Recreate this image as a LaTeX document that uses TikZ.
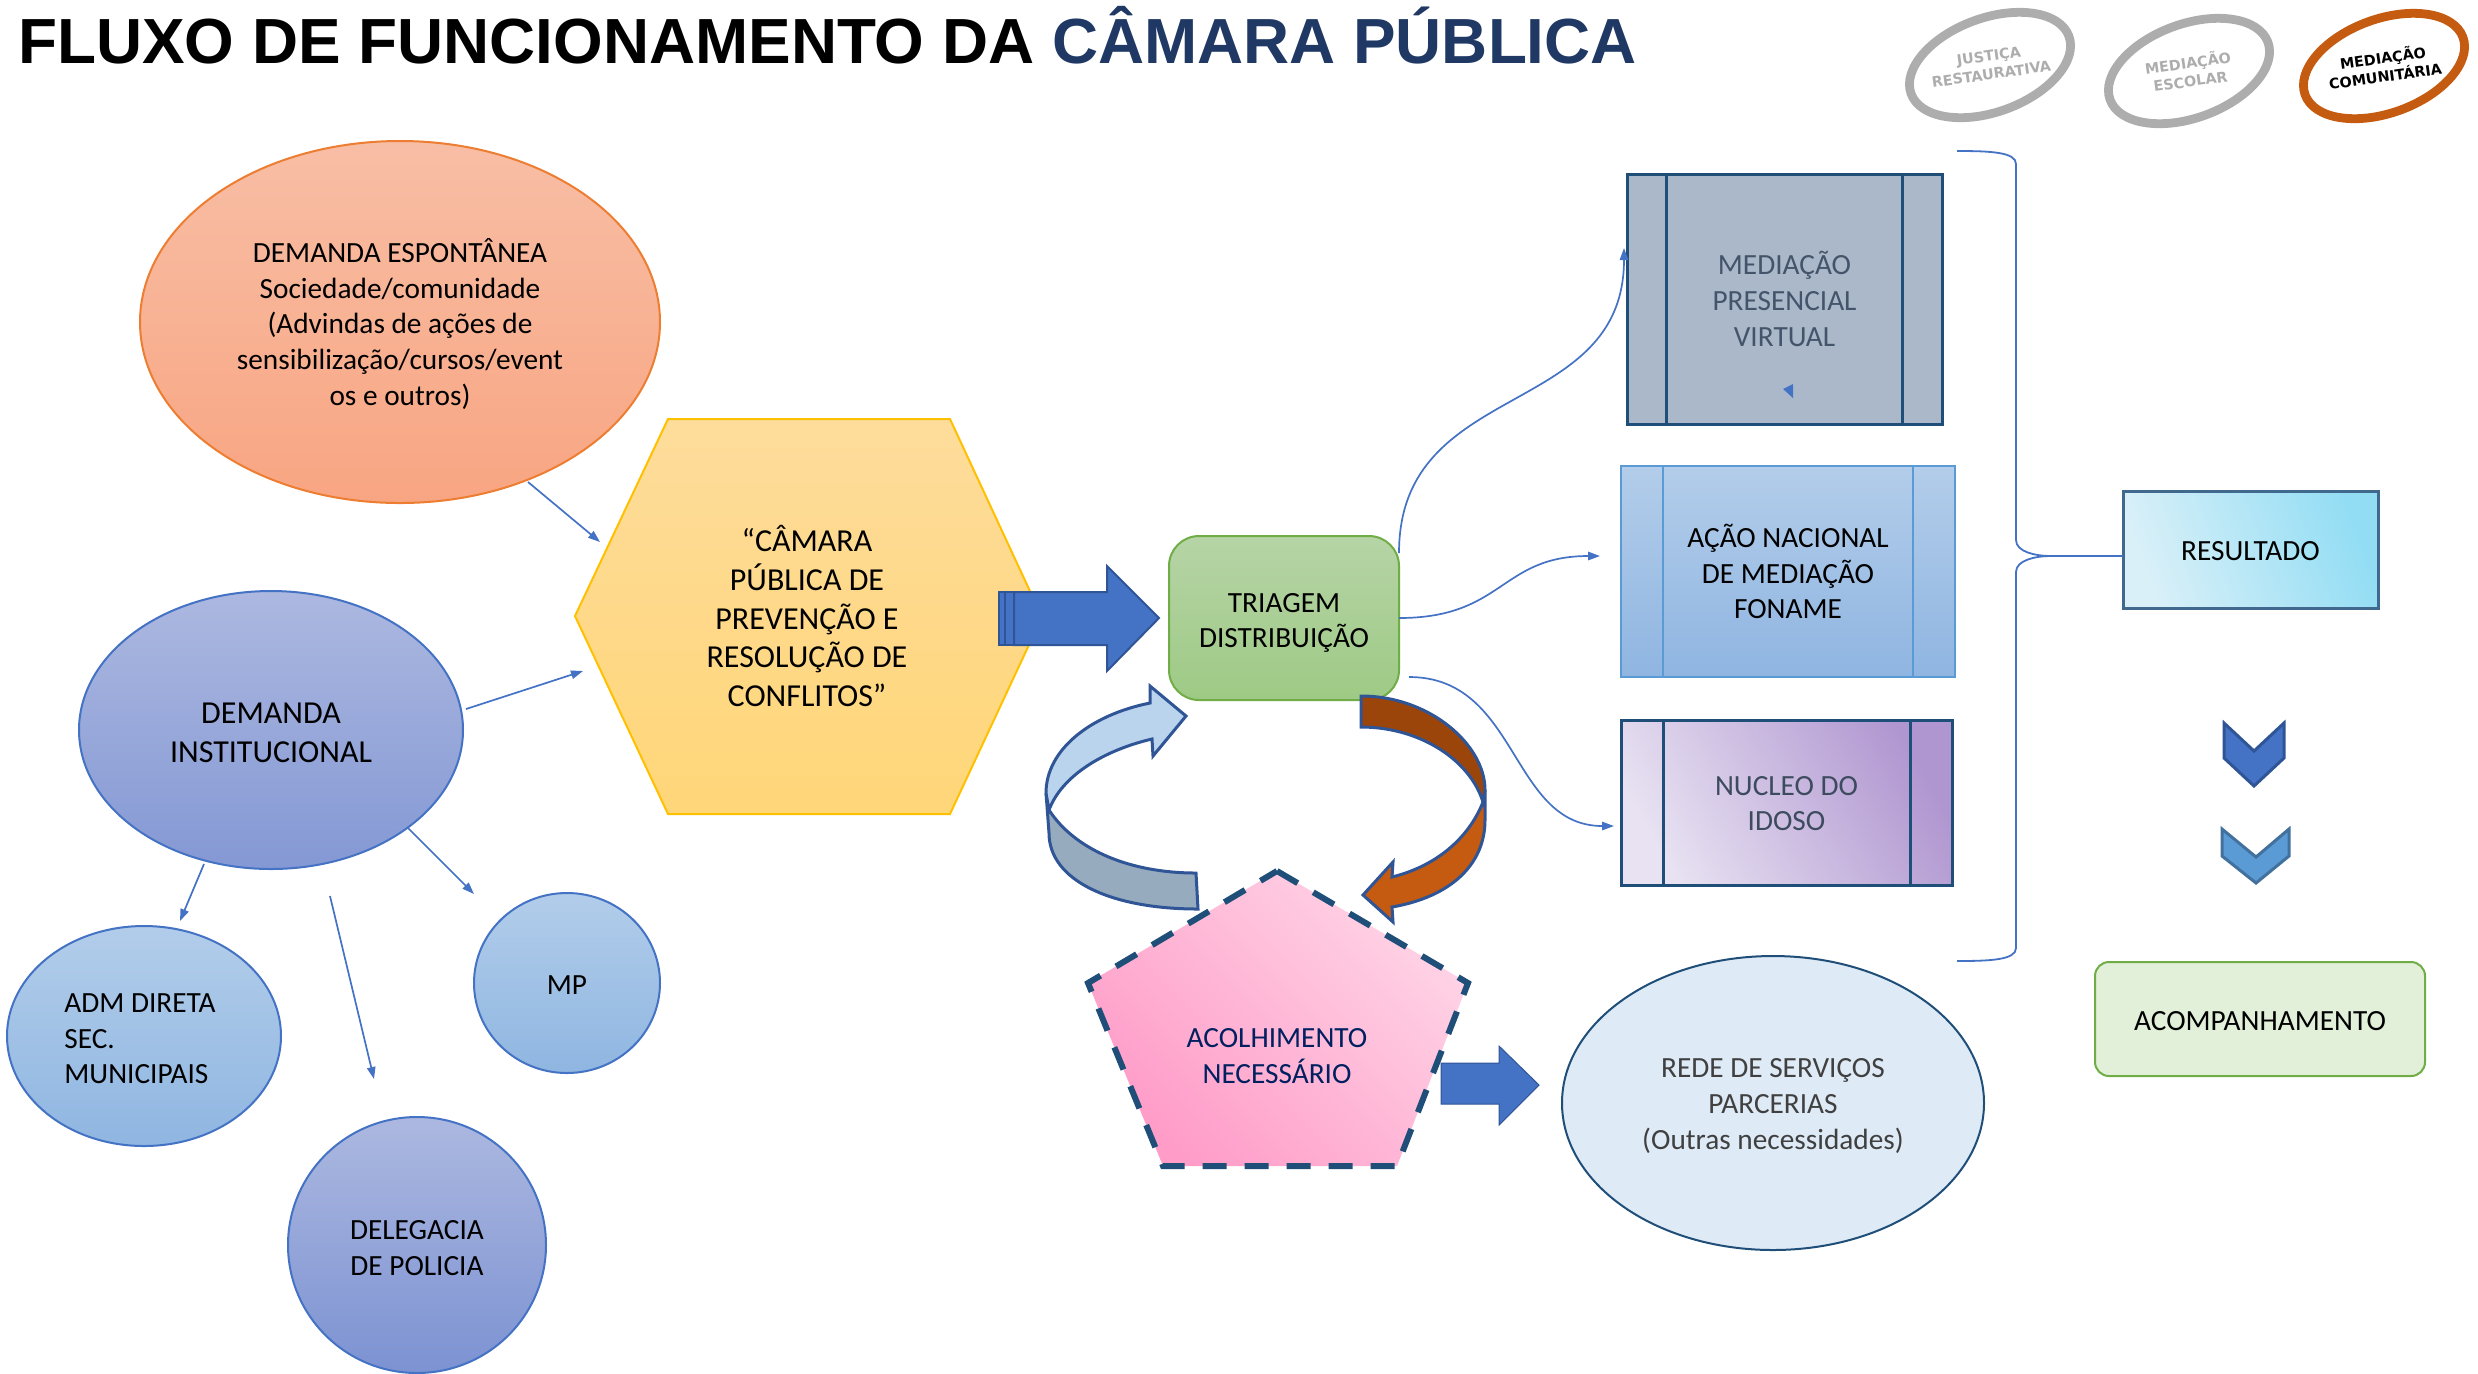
\documentclass[tikz,border=0pt]{standalone}
\usepackage{fontspec}
\setmainfont{Carlito}
\newfontfamily\titlefont{Liberation Sans}
\newfontfamily\badgefont{DejaVu Sans}
\usetikzlibrary{shapes.geometric,arrows.meta}
\definecolor{cline}{HTML}{4472C4}
\definecolor{navy}{HTML}{1F4E79}
\definecolor{edgeb}{HTML}{2F5597}
\definecolor{titleb}{HTML}{1F3864}
\definecolor{slate}{HTML}{44546A}
\tikzset{
  x=0.5pt,y=-0.5pt,
  txt/.style={font=\fontsize{14.65}{17.8}\selectfont,align=center,inner sep=0pt,outer sep=0pt,text=black},
  bigtxt/.style={font=\fontsize{16}{19.4}\selectfont,align=center,inner sep=0pt,outer sep=0pt,text=black},
  oval/.style={ellipse,inner sep=0pt,outer sep=0pt},
  box/.style={rectangle,inner sep=0pt,outer sep=0pt},
  conn/.style={draw=cline,line width=0.85pt,-{Triangle[length=6pt,width=4.2pt]}},
  tube/.style={draw=edgeb,line width=1.5pt,line join=miter},
  badge/.style={oval,rotate=20,minimum width=84pt,minimum height=47pt,line width=4.4pt},
  badgetxt/.style={font=\badgefont\bfseries\fontsize{7.2}{9.2}\selectfont,align=center,rotate=8,inner sep=0pt}
}
\begin{document}
\begin{tikzpicture}
\useasboundingbox (0,0) rectangle (2478,1373);
% title
\node[anchor=base west,inner sep=0pt,font=\titlefont\bfseries\fontsize{31.9}{38}\selectfont] (title) at (18,63.5)
  {FLUXO DE FUNCIONAMENTO DA \textcolor{titleb}{CÂMARA PÚBLICA}};
% badges
\node[badge,draw=black!32] (b1) at (1990,65) {};
\node[badgetxt,text=black!32] (b1t) at (1990,65) {JUSTIÇA\\RESTAURATIVA};
\node[badge,draw=black!32] (b2) at (2189,71) {};
\node[badgetxt,text=black!32] (b2t) at (2189,71) {MEDIAÇÃO\\ESCOLAR};
\node[badge,draw={rgb,255:red,197;green,90;blue,17}] (b3) at (2384,66) {};
\node[badgetxt,text=black] (b3t) at (2384,66) {MEDIAÇÃO\\COMUNITÁRIA};
% hexagon
\path[draw={rgb,255:red,255;green,192;blue,0},line width=1pt,top color={rgb,255:red,254;green,220;blue,155},bottom color={rgb,255:red,255;green,214;blue,120}]
  (575,616) -- (668,419) -- (950,419) -- (1042,617) -- (950,814) -- (668,814) -- cycle;
\node[bigtxt] (hex) at (807,616) {“CÂMARA\\PÚBLICA DE\\PREVENÇÃO E\\RESOLUÇÃO DE\\CONFLITOS”};
% source ovals
\node[oval,draw={rgb,255:red,237;green,125;blue,49},line width=1pt,top color={rgb,255:red,248;green,190;blue,165},bottom color={rgb,255:red,248;green,165;blue,130},minimum width=260pt,minimum height=181pt] (esp) at (400,322) {};
\node[txt,yshift=-1pt] (espt) at (esp) {DEMANDA ESPONTÂNEA\\Sociedade/comunidade\\(Advindas de ações de\\sensibilização/cursos/event\\os e outros)};
\node[oval,draw=cline,line width=1pt,top color={rgb,255:red,172;green,184;blue,224},bottom color={rgb,255:red,132;green,152;blue,212},minimum width=192pt,minimum height=139pt] (inst) at (271,730) {};
\node[bigtxt,yshift=-1.5pt] (instt) at (inst) {DEMANDA\\INSTITUCIONAL};
\node[oval,draw=cline,line width=1pt,top color={rgb,255:red,178;green,205;blue,234},bottom color={rgb,255:red,143;green,182;blue,225},minimum width=137pt,minimum height=110pt] (adm) at (144,1036) {};
\node[txt,align=left] (admt) at (140,1039) {ADM DIRETA\\SEC.\\MUNICIPAIS};
\node[oval,draw=cline,line width=1pt,top color={rgb,255:red,178;green,205;blue,234},bottom color={rgb,255:red,143;green,182;blue,225},minimum width=93pt,minimum height=90pt] (mp) at (567,983) {};
\node[txt,yshift=-1pt] (mpt) at (mp) {MP};
\node[oval,draw=cline,line width=1pt,top color={rgb,255:red,172;green,184;blue,224},bottom color={rgb,255:red,124;green,146;blue,210},minimum width=129pt,minimum height=128pt] (deleg) at (417,1245) {};
\node[txt,yshift=-1.5pt] (delegt) at (deleg) {DELEGACIA\\DE POLICIA};
% straight connectors
\coordinate (hexa) at (600,542);
\coordinate (hexb) at (583,671);
\coordinate (adma) at (180,921);
\coordinate (dela) at (374,1079);
\coordinate (mpa) at (474,894);
\coordinate (esps) at (528,482);
\coordinate (insta) at (466,709);
\coordinate (instb) at (204,864);
\coordinate (instc) at (330,896);
\coordinate (instd) at (408,828);
\draw[conn] (esps) -- (hexa);
\draw[conn] (insta) -- (hexb);
\draw[conn] (instb) -- (adma);
\draw[conn] (instc) -- (dela);
\draw[conn] (instd) -- (mpa);
% triagem
\node[box,rounded corners=15pt,draw={rgb,255:red,112;green,173;blue,71},line width=1pt,top color={rgb,255:red,182;green,212;blue,166},bottom color={rgb,255:red,158;green,202;blue,133},minimum width=115pt,minimum height=82pt] (tria) at (1284,618) {};
\node[txt,yshift=-2.5pt] (triat) at (tria) {TRIAGEM\\DISTRIBUIÇÃO};
% big arrow
\path[draw=edgeb,line width=1pt,fill=cline] (1014,592) -- (1107,592) -- (1107,566) -- (1159,618) -- (1107,671) -- (1107,645) -- (1014,645) -- cycle;
\path[draw=edgeb,line width=1pt,fill=cline] (999,592) rectangle (1005,645);
\path[draw=edgeb,line width=1pt,fill=cline] (1005,592) rectangle (1014,645);
% cycle arrows
\path[tube,fill={rgb,255:red,151;green,171;blue,191}] (1049,810) .. controls (1075,850) and (1130,873) .. (1196,873) -- (1198,909) .. controls (1110,909) and (1049,880) .. (1049,833) -- (1046,793) -- cycle;
\path[tube,fill={rgb,255:red,187;green,212;blue,238}] (1186,716) -- (1150,686) -- (1150,703) .. controls (1090,715) and (1046,750) .. (1046,793) -- (1049,810) .. controls (1062,775) and (1105,750) .. (1152,739) -- (1153,756) -- cycle;
\path[tube,fill={rgb,255:red,197;green,90;blue,17}] (1483,802) .. controls (1470,835) and (1440,865) .. (1392,877) -- (1393,862) -- (1363,895) -- (1393,922) -- (1392,907) .. controls (1450,897) and (1485,865) .. (1485,820) -- (1485,790) -- cycle;
\path[tube,fill={rgb,255:red,156;green,69;blue,11}] (1361,696) .. controls (1430,696) and (1485,745) .. (1485,790) -- (1483,802) .. controls (1470,760) and (1420,727) .. (1361,727) -- cycle;
% pentagon
\path[draw=navy,line width=3pt,dash pattern=on 12pt off 9pt,bottom color={rgb,255:red,255;green,156;blue,200},top color={rgb,255:red,255;green,212;blue,230},shading angle=-45]
  (1277,871) -- (1468,983) -- (1397,1166) -- (1163,1166) -- (1088,983) -- cycle;
\node[txt,text={rgb,255:red,0;green,32;blue,96}] (acol) at (1277,1056) {ACOLHIMENTO\\NECESSÁRIO};
% small arrow
\path[draw=edgeb,line width=0.5pt,fill=cline] (1441,1063) -- (1499,1063) -- (1499,1046) -- (1539,1085) -- (1499,1125) -- (1499,1104) -- (1441,1104) -- cycle;
\node[oval,draw=navy,line width=1pt,fill={rgb,255:red,222;green,234;blue,246},minimum width=211pt,minimum height=147pt] (rede) at (1773,1103) {};
\node[txt,text=black!75,yshift=-1.5pt] (redet) at (rede) {REDE DE SERVIÇOS\\PARCERIAS\\(Outras necessidades)};
% service boxes
\node[box,txt,text=slate,draw=navy,line width=1.5pt,fill={rgb,255:red,171;green,184;blue,201},minimum width=157.5pt,minimum height=125pt] (med) at (1784.5,299) {MEDIAÇÃO\\PRESENCIAL\\VIRTUAL};
\draw[navy,line width=1.5pt] ([xshift=19.5pt]med.north west) -- ([xshift=19.5pt]med.south west);
\draw[navy,line width=1.5pt] ([xshift=-20pt]med.north east) -- ([xshift=-20pt]med.south east);
\path[fill=cline] (1783,389) -- (1793,384) -- (1793,398) -- cycle;
\node[box,txt,draw={rgb,255:red,91;green,155;blue,213},line width=1pt,top color={rgb,255:red,179;green,205;blue,234},bottom color={rgb,255:red,143;green,181;blue,225},minimum width=167pt,minimum height=105.5pt] (acao) at (1788,571.5) {AÇÃO NACIONAL\\DE MEDIAÇÃO\\FONAME};
\draw[draw={rgb,255:red,91;green,155;blue,213},line width=1pt] ([xshift=21pt]acao.north west) -- ([xshift=21pt]acao.south west);
\draw[draw={rgb,255:red,91;green,155;blue,213},line width=1pt] ([xshift=-21pt]acao.north east) -- ([xshift=-21pt]acao.south east);
\node[box,draw=navy,line width=1.5pt,bottom color={rgb,255:red,232;green,226;blue,242},top color={rgb,255:red,176;green,150;blue,208},shading angle=-60,minimum width=165.5pt,minimum height=82.5pt] (nuc) at (1786.5,802.5) {};
\node[txt,text=slate!90!black,yshift=-0.5pt] (nuct) at (nuc) {NUCLEO DO\\IDOSO};
\draw[navy,line width=1.5pt] ([xshift=21pt]nuc.north west) -- ([xshift=21pt]nuc.south west);
\draw[navy,line width=1.5pt] ([xshift=-21pt]nuc.north east) -- ([xshift=-21pt]nuc.south east);
% curved connectors
\coordinate (meda) at (1624,248);
\coordinate (acaoa) at (1600,556);
\coordinate (nuca) at (1614,826);
\draw[conn] ([yshift=32.5pt]tria.east) .. controls +(0,-175) and (1624,420) .. (meda);
\draw[conn] (tria.east) .. controls +(105,0) and (1500,556) .. (acaoa);
\draw[conn] ([shift={(5pt,-29.5pt)}]tria.east) .. controls +(110,0) and (1510,826) .. (nuca);
% result
\node[box,draw=navy!85,line width=1.5pt,bottom color={rgb,255:red,218;green,240;blue,248},top color={rgb,255:red,146;green,221;blue,244},shading angle=-70,minimum width=127.5pt,minimum height=58.5pt] (res) at (2250.5,549.5) {};
\node[txt,yshift=-1pt] (rest) at (res) {RESULTADO};
\coordinate (bt) at (1957,151);
\coordinate (bb) at (1957,961);
\coordinate (btip) at (2050,556);
\coordinate (bres) at (res.west |- btip);
\draw[cline,line width=0.9pt] (bt) .. controls (1990,151) and (2016,152) .. (2016,164) -- (2016,540) .. controls (2016,552) and (2036,556) .. (btip);
\draw[cline,line width=0.9pt] (bb) .. controls (1990,961) and (2016,960) .. (2016,948) -- (2016,572) .. controls (2016,560) and (2036,556) .. (btip);
\draw[cline,line width=0.9pt] (btip) -- (bres);
% chevrons
\path[draw=edgeb,line width=1.5pt,fill=cline] (2224,723) -- (2254,751) -- (2284,723) -- (2284,758) -- (2254,786) -- (2224,758) -- cycle;
\path[draw={rgb,255:red,65;green,113;blue,156},line width=1.5pt,fill={rgb,255:red,91;green,155;blue,213}] (2222,829) -- (2256,857) -- (2289,829) -- (2289,856) -- (2256,883) -- (2222,856) -- cycle;
\node[box,rounded corners=7pt,draw={rgb,255:red,112;green,173;blue,71},line width=1pt,fill={rgb,255:red,226;green,240;blue,217},minimum width=165pt,minimum height=57pt] (acomp) at (2260,1019) {};
\node[txt,yshift=-1pt] (acompt) at (acomp) {ACOMPANHAMENTO};
\end{tikzpicture}
\end{document}
